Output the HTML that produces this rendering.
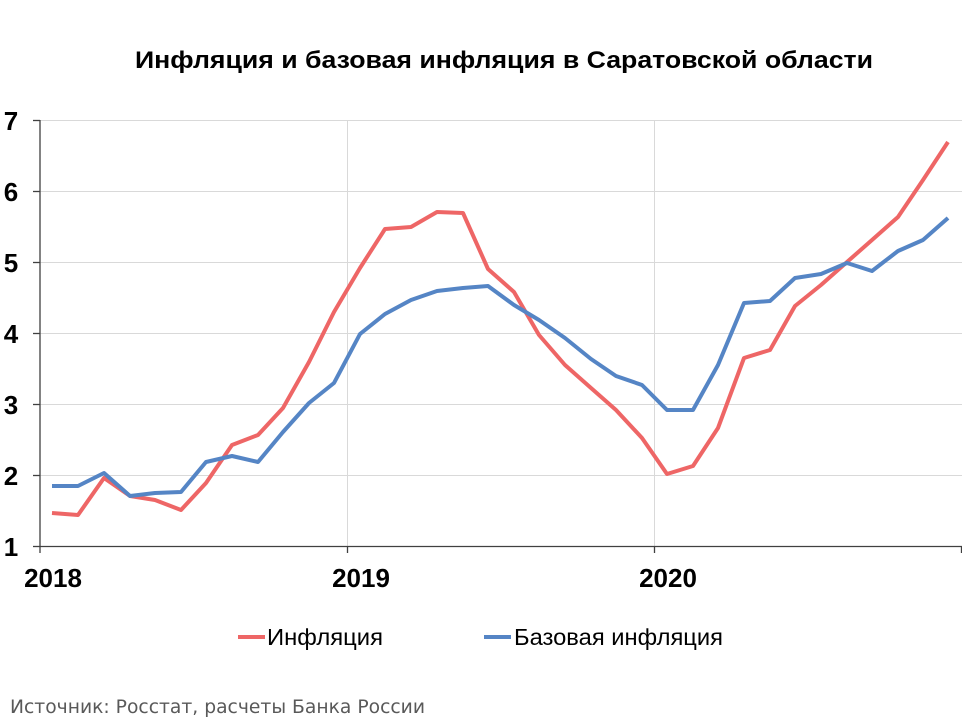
<!DOCTYPE html>
<html><head><meta charset="utf-8"><style>
html,body{margin:0;padding:0;background:#fff;}
body{width:962px;height:722px;overflow:hidden;font-family:"Liberation Sans",Arial,sans-serif;}
</style></head><body>
<svg width="962" height="722" xmlns="http://www.w3.org/2000/svg" font-family="Liberation Sans, Arial, sans-serif">
<text x="135" y="68" font-size="24" font-weight="bold" fill="#000" textLength="738" lengthAdjust="spacingAndGlyphs">Инфляция и базовая инфляция в Саратовской области</text>
<g stroke="#d9d9d9" stroke-width="1">
<line x1="40" y1="120.5" x2="962" y2="120.5"/>
<line x1="40" y1="191.5" x2="962" y2="191.5"/>
<line x1="40" y1="262.5" x2="962" y2="262.5"/>
<line x1="40" y1="333.5" x2="962" y2="333.5"/>
<line x1="40" y1="404.5" x2="962" y2="404.5"/>
<line x1="40" y1="475.5" x2="962" y2="475.5"/>
<line x1="347.5" y1="120" x2="347.5" y2="546"/>
<line x1="654.5" y1="120" x2="654.5" y2="546"/>
</g>
<g stroke="#404040" stroke-width="1.3">
<line x1="40" y1="120" x2="40" y2="547"/>
<line x1="40" y1="546.5" x2="962" y2="546.5"/>
<line x1="33" y1="120.5" x2="40" y2="120.5"/>
<line x1="33" y1="191.5" x2="40" y2="191.5"/>
<line x1="33" y1="262.5" x2="40" y2="262.5"/>
<line x1="33" y1="333.5" x2="40" y2="333.5"/>
<line x1="33" y1="404.5" x2="40" y2="404.5"/>
<line x1="33" y1="475.5" x2="40" y2="475.5"/>
<line x1="33" y1="546.5" x2="40" y2="546.5"/>
<line x1="40" y1="546" x2="40" y2="553"/>
<line x1="347.5" y1="546" x2="347.5" y2="553"/>
<line x1="654.5" y1="546" x2="654.5" y2="553"/>
<line x1="961.5" y1="546" x2="961.5" y2="553"/>
</g>
<g font-size="26" font-weight="bold" fill="#000" text-anchor="middle">
<text x="11" y="130">7</text><text x="11" y="201">6</text><text x="11" y="272">5</text>
<text x="11" y="343">4</text><text x="11" y="414">3</text><text x="11" y="485">2</text>
<text x="11" y="556">1</text>
<text x="53" y="587">2018</text><text x="361" y="587">2019</text><text x="668" y="587">2020</text>
</g>
<polyline fill="none" stroke="#ee6666" stroke-width="4" stroke-linejoin="round" points="52,513 78,515 104,478 130,496 155,500 181,510 206,483 232,445 258,435 283,408 309,362 334,312 360,268 385,229 411,227 437,212 463,213 488,269 514,292 539,335 565,365 591,388 616,410 642,438 667,474 693,466 718,428 744,358 770,350 795,306 821,285 847,262 872,240 898,217 923,180 948,142"/>
<polyline fill="none" stroke="#5585c5" stroke-width="4" stroke-linejoin="round" points="52,486 78,486 104,473 130,496 155,493 181,492 206,462 232,456 258,462 283,432 309,403 334,383 360,334 385,314 411,300 437,291 463,288 488,286 514,305 539,320 565,338 591,359 616,376 642,385 667,410 693,410 718,365 744,303 770,301 795,278 821,274 847,263 872,271 898,251 923,240 948,218"/>
<line x1="238" y1="637" x2="265" y2="637" stroke="#ee6666" stroke-width="4"/>
<text x="267" y="645" font-size="23" fill="#000" textLength="116" lengthAdjust="spacingAndGlyphs">Инфляция</text>
<line x1="484" y1="637" x2="511" y2="637" stroke="#5585c5" stroke-width="4"/>
<text x="514" y="645" font-size="23" fill="#000" textLength="209" lengthAdjust="spacingAndGlyphs">Базовая инфляция</text>
<text x="10" y="713" font-size="19" fill="#595959" font-family="DejaVu Sans, sans-serif" textLength="415" lengthAdjust="spacingAndGlyphs">Источник: Росстат, расчеты Банка России</text>
</svg>
</body></html>
